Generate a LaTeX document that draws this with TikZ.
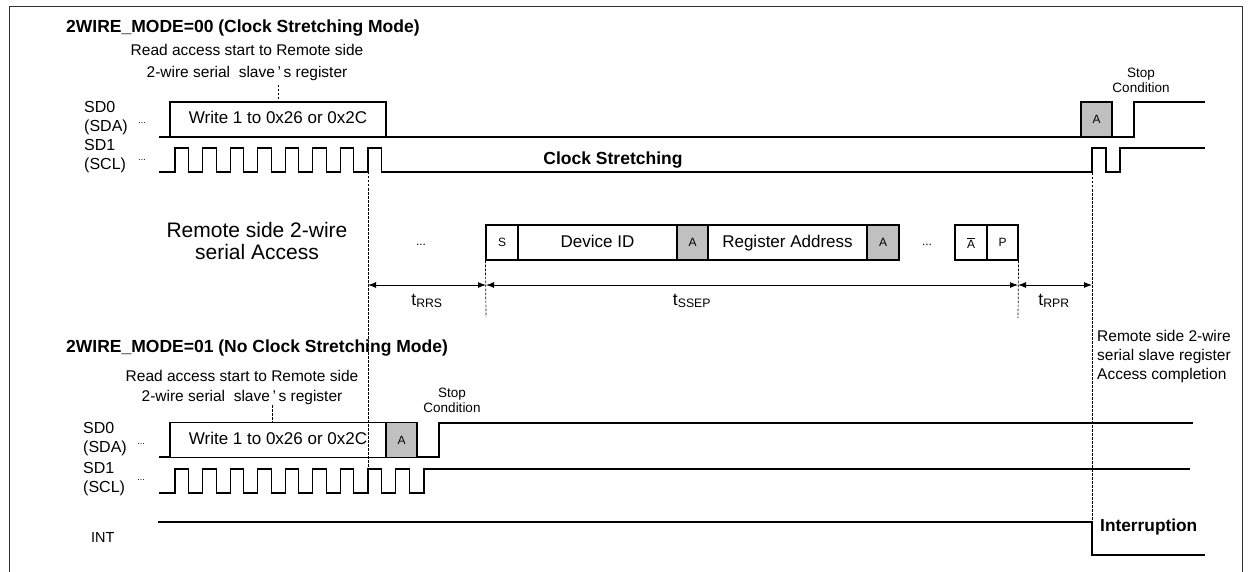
\documentclass[tikz,border=0pt]{standalone}
\usepackage{fontspec}
\setmainfont{Liberation Sans}
\usetikzlibrary{arrows.meta}
\definecolor{agray}{RGB}{192,192,192}
\newcommand{\myfs}[2]{\fontsize{#1}{#2}\selectfont}
\begin{document}
\begin{tikzpicture}[x=1pt,y=-1pt,
  sig/.style={line width=1.1pt},
  vdash/.style={line width=0.7pt, dash pattern=on 2.5pt off 1.5pt},
  cell/.style={draw, line width=1.1pt, minimum height=35pt, inner sep=0pt, text height=12.5pt, text depth=3.5pt, font=\myfs{17}{20}},
  acell/.style={cell, fill=agray, font=\myfs{12}{14}, text height=8.5pt, text depth=0pt},
  scell/.style={cell, font=\myfs{12}{14}, text height=8.5pt, text depth=0pt},
  title/.style={font=\myfs{17.5}{21}\bfseries, anchor=west, inner sep=0pt},
  note/.style={font=\myfs{15.5}{22}, align=center, inner sep=0pt},
  lab/.style={font=\myfs{16}{18.5}, align=left, anchor=west, inner sep=0pt},
  dts/.style={font=\myfs{9}{11}, inner sep=0pt},
  stopc/.style={font=\myfs{13.5}{15}, align=center, inner sep=0pt},
  dim/.style={line width=1pt, {Latex[length=8pt,width=6pt]}-{Latex[length=8pt,width=6pt]}},
  tlab/.style={font=\myfs{17.5}{20}, inner sep=0pt}]
\useasboundingbox (0,0) rectangle (1249,572);
\draw[line width=1pt, black!80] (9,572) -- (9,7) -- (1242,7) -- (1242,572);

% ---------- top section ----------
\node[title] (t1) at (66,28) {2WIRE\_MODE=00 (Clock Stretching Mode)};
\node[note] (r1) at (247,62) {Read access start to Remote side\\2-wire serial\ \ slave\,’\,s register};
\draw[sig] (159,137) -- (1134,137) -- (1134,102) -- (1205,102);
\node[cell, minimum width=216pt, fill=white] (w1) at (278,119.5) {Write 1 to 0x26 or 0x2C};
\node[acell, minimum width=31pt] (a1) at (1096.5,119.5) {A};
\draw[sig] (159,172) foreach \i in {0,...,7}{ -- ({175+27.57*\i},172) -- ({175+27.57*\i},148) -- ({188.5+27.57*\i},148) -- ({188.5+27.57*\i},172)} -- (1092,172) -- (1092,148) -- (1106,148) -- (1106,172) -- (1120,172) -- (1120,148) -- (1205,148);
\node[lab] (l1) at (84,118) {SD0\\(SDA)};
\node[lab] (l2) at (84,156) {SD1\\(SCL)};
\node[dts] (d1) at (142,123) {...};
\node[dts] (d2) at (142,160) {...};
\node[font=\myfs{17.5}{21}\bfseries, inner sep=0pt] (cs) at (613,160) {Clock Stretching};
\node[stopc] (sc1) at (1141,80) {Stop\\Condition};
\draw[vdash] (278,85) -- (w1.north);

% ---------- middle section ----------
\node[font=\myfs{21}{22}, align=center, inner sep=0pt] (rs) at (257,241) {Remote side 2-wire\\serial Access};
\node[dts, font=\myfs{12}{14}] (m1) at (421,245) {...};
\node[scell, minimum width=32pt] (s) at (502,242.5) {S};
\node[cell, minimum width=159pt] (dev) at (597.5,242.5) {Device ID};
\node[acell, minimum width=31pt] (a2) at (692.5,242.5) {A};
\node[cell, minimum width=159pt] (reg) at (787.5,242.5) {Register Address};
\node[acell, minimum width=32pt] (a3) at (883,242.5) {A};
\node[dts, font=\myfs{12}{14}] (m2) at (927,245) {...};
\node[scell, minimum width=32pt, text height=11pt] (na) at (971,242.5) {$\overline{\hbox{A}}$};
\node[scell, minimum width=31pt] (p) at (1002.5,242.5) {P};

\coordinate (x0) at (368,285);
\coordinate (x1) at (486,285);
\coordinate (x2) at (1018,285);
\coordinate (x3) at (1092,285);
\draw[dim] (x0) -- (x1);
\draw[dim] (x1) -- (x2);
\draw[dim] (x2) -- (x3);
\node[tlab] (trrs) at (427,301) {t\textsubscript{RRS}};
\node[tlab] (tssep) at (692,301) {t\textsubscript{SSEP}};
\node[tlab] (trpr) at (1054,301) {t\textsubscript{RPR}};
\draw[vdash] (s.south west) -- (486,317);
\draw[vdash] (p.south east) -- (1018,318);

% ---------- bottom section ----------
\node[title] (t2) at (66,348) {2WIRE\_MODE=01 (No Clock Stretching Mode)};
\node[note, font=\myfs{15.5}{20}] (r2) at (242,387) {Read access start to Remote side\\2-wire serial\ \ slave\,’\,s register};
\draw[sig] (159,457) -- (439,457) -- (439,423) -- (1193,423);
\node[cell, minimum width=216pt, fill=white] (w2) at (278,440) {Write 1 to 0x26 or 0x2C};
\node[acell, minimum width=31pt] (a4) at (401.5,440) {A};
\draw[sig] (159,493) foreach \i in {0,...,8}{ -- ({175+27.57*\i},493) -- ({175+27.57*\i},469) -- ({188.5+27.57*\i},469) -- ({188.5+27.57*\i},493)} -- (424,493) -- (424,469) -- (1190,469);
\node[lab] (l3) at (83,439) {SD0\\(SDA)};
\node[lab] (l4) at (83,479) {SD1\\(SCL)};
\node[dts] (d3) at (141,444) {...};
\node[dts] (d4) at (141,480) {...};
\node[stopc] (sc2) at (452,400) {Stop\\Condition};
\draw[vdash] (272,405) -- (w2.north -| 272,0);

\draw[sig] (158,522) -- (1092,522) -- (1092,555) -- (1205,555);
\node[lab, font=\myfs{14.5}{16}] (int) at (91,538) {INT};
\node[font=\myfs{17.3}{20}\bfseries, anchor=west, inner sep=0pt] (intr) at (1100,527) {Interruption};
\node[font=\myfs{15.5}{19}, align=left, anchor=west, inner sep=0pt] (rc) at (1097,356) {Remote side 2-wire\\serial slave register\\Access completion};

% long dashed guides
\draw[vdash] (368,172) -- (368,469);
\draw[vdash] (1092,173) -- (1092,522);
\end{tikzpicture}
\end{document}
